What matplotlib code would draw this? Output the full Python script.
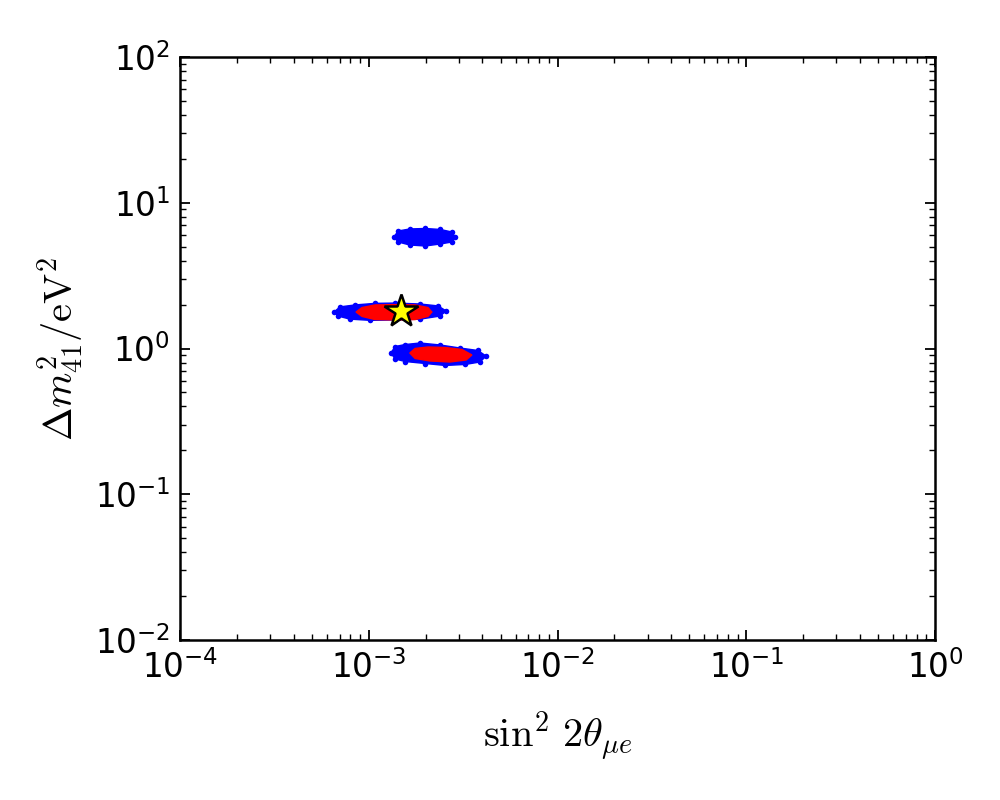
import matplotlib
matplotlib.use("Agg")
import matplotlib.pyplot as plt

# allowed regions (boundary points, clockwise)
# x = sin^2 2theta_mue, y = dm^2_41 [eV^2]
blue_top_x = [1.36e-3, 1.43e-3, 1.65e-3, 1.99e-3, 2.39e-3, 2.76e-3,
              2.86e-3, 2.76e-3, 2.39e-3, 1.99e-3, 1.65e-3, 1.43e-3]
blue_top_y = [5.82, 6.40, 6.61, 6.66, 6.56, 6.30,
              5.82, 5.38, 5.21, 5.05, 5.13, 5.38]

blue_mid_x = [6.55e-4, 7.04e-4, 8.46e-4, 1.08e-3, 1.38e-3, 1.87e-3, 2.33e-3,
              2.57e-3, 2.39e-3, 1.87e-3, 1.38e-3, 1.02e-3, 7.96e-4, 6.87e-4]
blue_mid_y = [1.78, 1.93, 1.99, 2.04, 2.05, 2.02, 1.96,
              1.81, 1.67, 1.59, 1.57, 1.56, 1.59, 1.67]

blue_low_x = [1.31e-3, 1.38e-3, 1.56e-3, 1.87e-3, 2.39e-3, 3.04e-3, 3.79e-3,
              4.18e-3, 3.89e-3, 3.24e-3, 2.54e-3, 1.99e-3, 1.56e-3, 1.38e-3]
blue_low_y = [0.931, 1.032, 1.065, 1.091, 1.057, 1.008, 0.969,
              0.888, 0.808, 0.777, 0.765, 0.789, 0.814, 0.847]

red_mid_x = [8.56e-4, 9.21e-4, 1.08e-3, 1.36e-3, 1.76e-3, 2.06e-3,
             2.16e-3, 2.06e-3, 1.76e-3, 1.36e-3, 1.08e-3, 9.21e-4]
red_mid_y = [1.78, 1.91, 1.99, 2.00, 1.99, 1.91,
             1.78, 1.66, 1.58, 1.57, 1.58, 1.66]

red_low_x = [1.65e-3, 1.76e-3, 2.06e-3, 2.54e-3, 3.12e-3,
             3.52e-3, 3.28e-3, 2.69e-3, 2.11e-3, 1.76e-3]
red_low_y = [0.931, 1.001, 1.024, 1.016, 0.984,
             0.903, 0.834, 0.808, 0.821, 0.854]

best_fit_x = [1.48e-3]
best_fit_y = [1.81]

plt.rcParams["mathtext.fontset"] = "cm"
plt.rcParams["axes.unicode_minus"] = False

fig = plt.figure(figsize=(10, 8), dpi=100)
ax = fig.add_axes([0.18, 0.2, 0.755, 0.72875])

# blue (wider) regions, drawn as filled blobs with dots on the edge
for bx, by in [(blue_top_x, blue_top_y), (blue_mid_x, blue_mid_y),
               (blue_low_x, blue_low_y)]:
    ax.fill(bx, by, color="blue", lw=1, zorder=2)
    ax.scatter(bx, by, s=16, color="blue", lw=0, zorder=2)

# red (narrower) regions
for rx, ry in [(red_mid_x, red_mid_y), (red_low_x, red_low_y)]:
    ax.fill(rx, ry, color="red", lw=1, zorder=3)

ax.plot(best_fit_x, best_fit_y, marker="*", ms=25, mfc="yellow",
        mec="black", mew=1.8, ls="none", zorder=4)

ax.set_xscale("log")
ax.set_yscale("log")
ax.set_xlim(1e-4, 1)
ax.set_ylim(1e-2, 1e2)

ax.tick_params(which="both", direction="in", top=True, right=True,
               labelsize=23.5)
ax.tick_params(which="major", length=7.5, width=1.3, pad=7)
ax.tick_params(which="minor", length=4.5, width=1.0)
for sp in ax.spines.values():
    sp.set_linewidth(1.8)

ax.set_xlabel(r"$\sin^2\,2\theta_{\mu e}$", fontsize=29, labelpad=18)
ax.set_ylabel(r"$\Delta m^2_{41}/{\rm eV}^2$", fontsize=29, labelpad=6)

fig.savefig("out.png", dpi=100)
